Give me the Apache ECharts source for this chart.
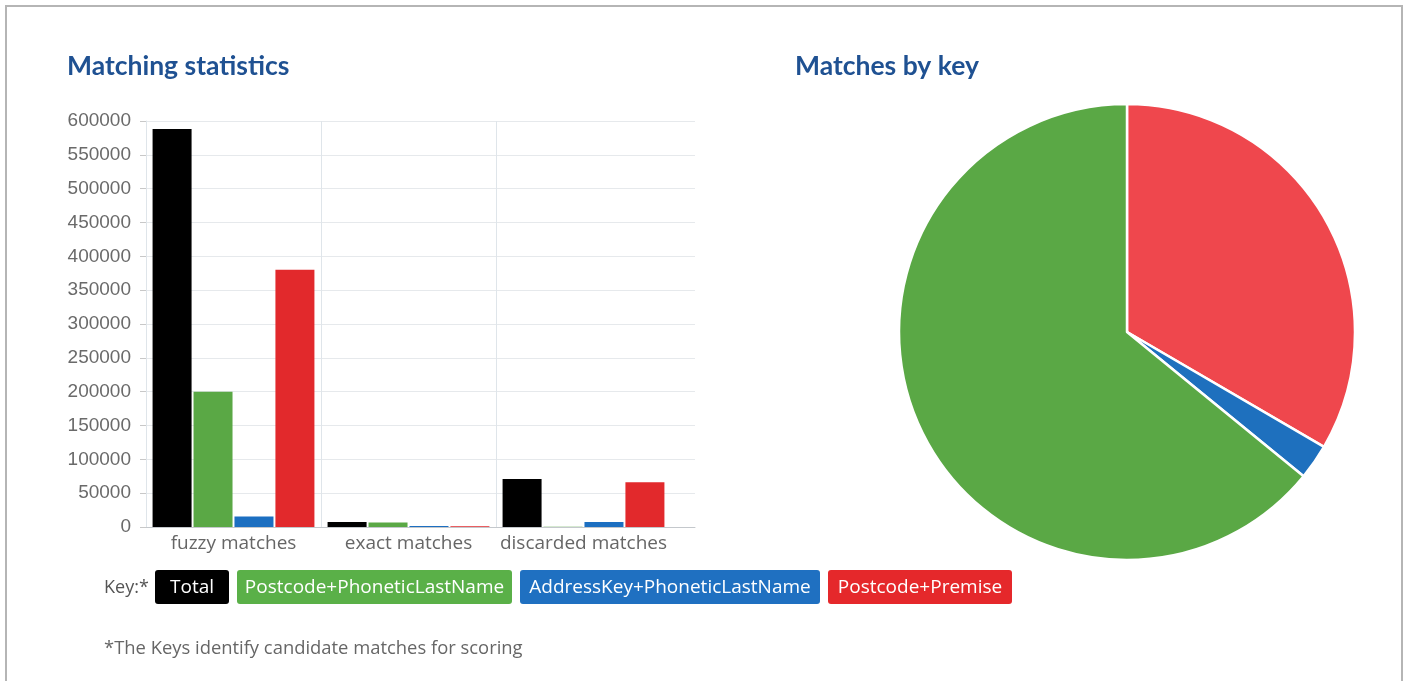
<!DOCTYPE html>
<html><head><meta charset="utf-8">
<script src="https://cdn.jsdelivr.net/npm/echarts@6/dist/echarts.min.js"></script>
<style>html,body{margin:0;padding:0;background:#fff}#c{width:1407px;height:681px}</style>
</head><body><div id="c"></div>
<script>
// ---- data ----
const categories = ['fuzzy matches', 'exact matches', 'discarded matches'];
const seriesNames = ['Total', 'Postcode+PhoneticLastName', 'AddressKey+PhoneticLastName', 'Postcode+Premise'];
const totalValues = [588000, 7400, 71000];
const phoneticValues = [200000, 6800, 500];
const addressValues = [15700, 1500, 7400];
const premiseValues = [380000, 1000, 66000];
const yMin = 0, yMax = 600000, yStep = 50000;
const pieNames = ['Postcode+Premise', 'AddressKey+PhoneticLastName', 'Postcode+PhoneticLastName'];
const pieValues = [33.4, 2.5, 64.1];
const chartTitles = ['Matching statistics', 'Matches by key'];
const keyLabel = 'Key:*';
const footnote = '*The Keys identify candidate matches for scoring';

// ---- styles ----
const barColors = ['#000000', '#5aa845', '#1c6fc1', '#e2292c'];
const pieColors = {'Postcode+Premise': '#ef474d', 'AddressKey+PhoneticLastName': '#1e70be', 'Postcode+PhoneticLastName': '#5aa845'};
const keyColors = ['#000000', '#5ab048', '#1f70c1', '#e5282b'];
const keyBoxes = [[155, 74], [237, 275], [520, 300], [828, 184]];

const chart = echarts.init(document.getElementById('c'));
const barData = [totalValues, phoneticValues, addressValues, premiseValues];

const keyGraphics = [];
seriesNames.forEach((n, i) => {
  const [x, w] = keyBoxes[i];
  keyGraphics.push({type: 'rect', shape: {x: x, y: 570, width: w, height: 34, r: 3}, style: {fill: keyColors[i]}, z: 10});
  keyGraphics.push({type: 'text', x: x + w / 2, y: 588, style: {text: n, fill: '#fff', font: '19px "Open Sans"', textAlign: 'center', textVerticalAlign: 'middle'}, z: 11});
});

const option = {
  backgroundColor: '#fff',
  animation: false,
  title: [
    {text: chartTitles[0], left: 67, top: 53, padding: 0, textStyle: {fontFamily: 'Lato', fontWeight: 'bold', fontSize: 26.5, color: '#1f5192'}},
    {text: chartTitles[1], left: 795, top: 53, padding: 0, textStyle: {fontFamily: 'Lato', fontWeight: 'bold', fontSize: 26.5, color: '#1f5192'}}
  ],
  grid: [
    {left: 146, right: 1407 - 671, top: 121, bottom: 681 - 527},
    {left: 143, right: 1407 - 695, top: 121, bottom: 681 - 527}
  ],
  xAxis: [
    {type: 'category', gridIndex: 0, data: categories,
     axisLine: {show: false}, axisTick: {show: false},
     axisLabel: {fontFamily: 'Open Sans', fontSize: 19, color: '#666', margin: 7, interval: 0},
     splitLine: {show: true, showMinLine: true, showMaxLine: false, lineStyle: {color: '#dfe5ea', width: 1}}},
    {type: 'value', gridIndex: 1, min: 0, max: 1, axisLabel: {show: false}, axisTick: {show: false},
     splitLine: {show: false}, axisLine: {show: true, lineStyle: {color: '#c4c8cc', width: 1}}}
  ],
  yAxis: [
    {type: 'value', gridIndex: 0, min: yMin, max: yMax, interval: yStep,
     axisLine: {show: true, lineStyle: {color: '#dfe5ea'}},
     axisTick: {show: true, length: 6, lineStyle: {color: '#c8c8c8'}},
     axisLabel: {fontFamily: 'Liberation Sans', fontSize: 19, color: '#6a6a6a', margin: 15, formatter: v => String(v)},
     splitLine: {show: false}},
    {type: 'value', gridIndex: 1, min: yMin, max: yMax, interval: yStep,
     axisLine: {show: false}, axisTick: {show: false}, axisLabel: {show: false},
     splitLine: {show: true, lineStyle: {color: '#e6e9ec', width: 1}}}
  ],
  series: seriesNames.map((n, i) => ({
    name: n, type: 'bar', xAxisIndex: 0, yAxisIndex: 0,
    data: barData[i], barWidth: 39, barGap: '5%',
    itemStyle: {color: barColors[i]}
  })).concat([{
    name: 'Matches by key', type: 'pie', center: [1127, 332], radius: 228,
    startAngle: 90, clockwise: true, label: {show: false}, labelLine: {show: false},
    itemStyle: {borderColor: '#fff', borderWidth: 2.5},
    data: pieNames.map((n, i) => ({name: n, value: pieValues[i], itemStyle: {color: pieColors[n]}}))
  }]),
  graphic: [
    {type: 'rect', shape: {x: 6, y: 6, width: 1396, height: 700}, style: {fill: 'none', stroke: '#b5b5b5', lineWidth: 2}, z: 0, silent: true},
    {type: 'text', x: 104, y: 588, style: {text: keyLabel, fill: '#555', font: '18px "Open Sans"', textVerticalAlign: 'middle'}, z: 11},
    {type: 'text', x: 104, y: 649, style: {text: footnote, fill: '#666', font: '18.4px "Open Sans"', textVerticalAlign: 'middle'}, z: 11}
  ].concat(keyGraphics)
};
chart.setOption(option);
</script></body></html>
